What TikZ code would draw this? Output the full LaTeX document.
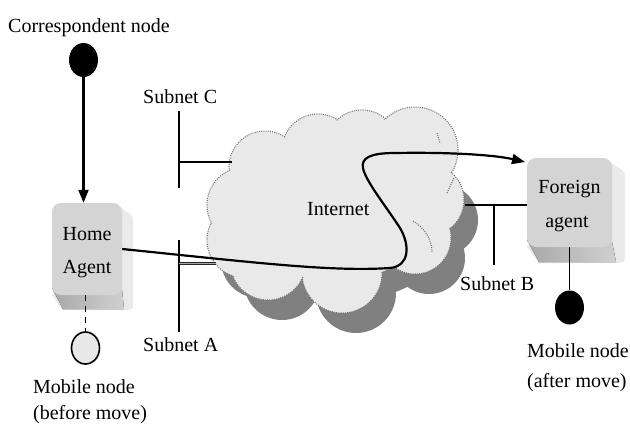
\documentclass[tikz,border=0pt]{standalone}
\usepackage{fontspec}
\setmainfont{Liberation Serif}
\usetikzlibrary{arrows.meta,shapes.geometric}
\definecolor{cloudfill}{HTML}{E9E9E9}
\definecolor{shadowc}{HTML}{808080}
\definecolor{keyfront}{HTML}{D4D4D4}
\definecolor{keyside}{HTML}{EAEAEA}
\definecolor{keybotA}{HTML}{A8A8A8}
\definecolor{keybotB}{HTML}{D0D0D0}
\definecolor{mnfill}{HTML}{E8E8E8}
\begin{document}
\begin{tikzpicture}[x=1pt,y=-1pt,
  lbl/.style={font=\fontsize{20}{24}\selectfont, inner sep=0pt, anchor=base west},
  lblc/.style={font=\fontsize{20}{24}\selectfont, inner sep=0pt, anchor=base},
  conn/.style={line width=2.2pt},
  subnet/.style={line width=1.6pt},
  arr/.style={conn,-{Triangle[length=13pt,width=10pt]}},
  blackdot/.style={ellipse, fill=black, minimum width=29pt, minimum height=34pt, inner sep=0pt},
  whitedot/.style={ellipse, draw=black, line width=1.6pt, fill=mnfill, minimum width=28pt, minimum height=32pt, inner sep=0pt},
  keyface/.style={rectangle, rounded corners=9pt, fill=keyfront, inner sep=0pt},
  cloudline/.style={draw=black!55, line width=1.1pt, dash pattern=on 1pt off 1.2pt},
]
\fill[white] (0,0) rectangle (630,426);
\useasboundingbox (0,0) rectangle (630,426);

\def\cloudcircles{265/167/36, 318/150/36, 362/146/36, 415/150/43, 428/200/36, 415/238/36, 342/273/40, 268/262/38, 245/240/38, 245/205/38}
\def\shadowcircles{428/200/36, 415/238/36, 342/273/40, 268/262/38, 245/240/38}

% cloud shadow
\foreach \cx/\cy/\r in \shadowcircles {\fill[shadowc] (\cx+14,\cy+20) circle[radius=\r pt];}
\fill[shadowc] (349,230) ellipse[x radius=100pt, y radius=70pt];
% cloud
\foreach \cx/\cy/\r in \cloudcircles {\filldraw[fill=cloudfill, cloudline] (\cx,\cy) circle[radius=\r pt];}
\foreach \cx/\cy/\r in \cloudcircles {\fill[cloudfill] (\cx,\cy) circle[radius=\r pt-1.5pt];}
\fill[cloudfill] (335,210) ellipse[x radius=100pt, y radius=70pt];
\draw[cloudline] (413,221) .. controls (425,228) and (432,240) .. (432,252);
\draw[cloudline] (447,193) -- (454,178);
\draw[cloudline] (437,133) -- (440,143);
\node[lbl] (inet) at (307,215) {Internet};

% subnet lines
\coordinate (scT) at (179,111);
\coordinate (scB) at (179,188);
\coordinate (scM) at (179,162);
\coordinate (scE) at (232,162);
\draw[subnet] (scT) -- (scB);
\draw[subnet] (scM) -- (scE);
\coordinate (saT) at (179,240);
\coordinate (saB) at (179,332);
\coordinate (saM) at (179,263.5);
\coordinate (saE) at (216,263.5);
\draw[subnet] (saT) -- (saB);
\draw[draw=black!85, line width=1pt, double=black!35, double distance=1.4pt] (saM) -- (saE);

% home agent key
\fill[keyside] (114,203) -- (127,212) .. controls (133,216) .. (133,224) -- (133,303) .. controls (133,309) .. (127,310) -- (62,310) -- (52,295) -- cycle;
\fill[left color=keybotA, right color=keybotB] (52,288) -- (63,309) -- (124,309) -- (122,290) -- cycle;
\node[keyface, minimum width=70pt, minimum height=92pt] (ha) at (87,249) {};
\node[lblc] (ha1) at (87,240) {Home};
\node[lblc] (ha2) at (87,273) {Agent};

% foreign agent key
\fill[keyside] (604,158) -- (619,168) .. controls (625,172) .. (625,180) -- (625,255) .. controls (625,262) .. (618,263) -- (539,263) -- (527,247) -- cycle;
\fill[left color=keybotA, right color=keybotB] (527,240) -- (539,262) -- (616,262) -- (612,242) -- cycle;
\node[keyface, minimum width=85pt, minimum height=89pt] (fa) at (569.5,202.5) {};
\node[lblc] (fa1) at (569.5,193) {Foreign};
\node[lblc] (fa2) at (567,227) {agent};

% subnet B
\coordinate (sbS) at (465,205);
\coordinate (sbV) at (494,205);
\coordinate (sbD) at (494,265);
\draw[subnet] (sbS) -- (sbS -| fa.west);
\draw[subnet] (sbV) -- (sbD);

% nodes
\node[blackdot] (cn) at (83.5,60) {};
\node[whitedot] (mnb) at (85.5,348) {};
\node[blackdot] (mna) at (569.5,307.5) {};

% connectors
\draw[arr] (cn.south) -- (cn.south |- ha.north);
\draw[line width=1.6pt, dash pattern=on 6pt off 5pt] (mnb.north |- ha.south) -- (mnb.north);
\draw[subnet] (mna.north |- fa.south) -- (mna.north);
\coordinate (faIn) at (525,162);
\draw[arr] (ha.east) .. controls (250,262) and (330,272) .. (390,268)
  .. controls (410,266) and (410,245) .. (400,228)
  .. controls (385,205) and (365,180) .. (363,168)
  .. controls (361,158) and (370,153) .. (395,153)
  .. controls (450,152) and (495,155) .. (faIn);

% labels
\node[lbl] (lcn) at (8,32) {Correspondent node};
\node[lbl] (lsc) at (143,103) {Subnet C};
\node[lbl] (lsa) at (143,351) {Subnet A};
\node[lbl] (lsb) at (460,290) {Subnet B};
\node[lbl] (lmb1) at (33,393) {Mobile node};
\node[lbl] (lmb2) at (33,419) {(before move)};
\node[lbl] (lma1) at (527,357) {Mobile node};
\node[lbl] (lma2) at (527,387) {(after move)};
\end{tikzpicture}
\end{document}
